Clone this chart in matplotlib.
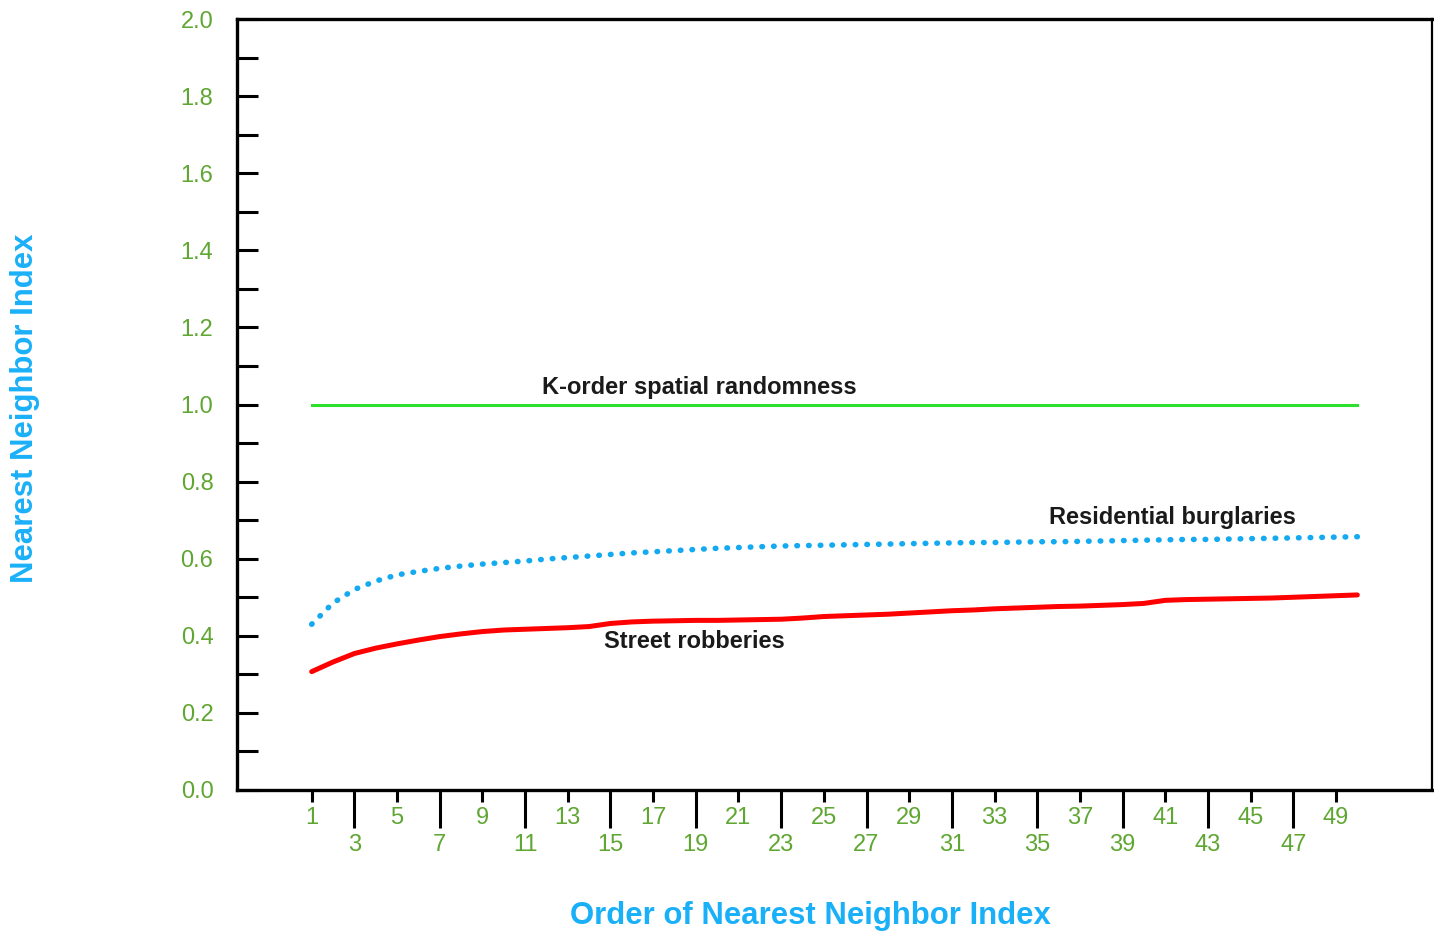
import matplotlib
matplotlib.use("Agg")
import matplotlib.pyplot as plt
import numpy as np

plt.rcParams["font.family"] = ["Liberation Sans", "DejaVu Sans"]

order = np.arange(1, 51)
burglaries = [
    0.430, 0.485, 0.520, 0.542, 0.558, 0.567, 0.575, 0.581, 0.586, 0.590,
    0.594, 0.599, 0.603, 0.607, 0.611, 0.615, 0.618, 0.621, 0.624, 0.627,
    0.629, 0.631, 0.633, 0.634, 0.635, 0.636, 0.637, 0.638, 0.639, 0.640,
    0.641, 0.642, 0.642, 0.643, 0.644, 0.644, 0.645, 0.646, 0.647, 0.648,
    0.649, 0.650, 0.650, 0.651, 0.652, 0.653, 0.654, 0.655, 0.656, 0.657,
]
robberies = [
    0.307, 0.332, 0.354, 0.368, 0.379, 0.389, 0.398, 0.405, 0.411, 0.415,
    0.417, 0.419, 0.421, 0.424, 0.432, 0.436, 0.438, 0.439, 0.440, 0.440,
    0.441, 0.442, 0.443, 0.446, 0.450, 0.452, 0.454, 0.456, 0.459, 0.462,
    0.465, 0.467, 0.470, 0.472, 0.474, 0.476, 0.477, 0.479, 0.481, 0.484,
    0.492, 0.494, 0.495, 0.496, 0.497, 0.498, 0.500, 0.502, 0.504, 0.506,
]
randomness = [1.0] * 50

tick_green = "#5fa632"
label_blue = "#1ab0f8"

fig = plt.figure(figsize=(14.34, 9.32), dpi=100)
ax = fig.add_axes([237 / 1434, 1 - 790 / 932, (1432 - 237) / 1434, (790 - 19) / 932])

ax.plot(order, randomness, color="#2ee02e", linewidth=2.2)
ax.plot(order, robberies, color="#ff0000", linewidth=3.6, solid_capstyle="round")
ax.plot(order, burglaries, color="#14aaf2", linewidth=4.0,
        dashes=(0.1, 2.0), dash_capstyle="round")

ax.text(11.77, 1.043, "K-order spatial randomness", fontsize=17, fontweight="bold",
        color="#1a1a1a", va="center", ha="left")
ax.text(35.57, 0.706, "Residential burglaries", fontsize=17, fontweight="bold",
        color="#1a1a1a", va="center", ha="left")
ax.text(14.72, 0.385, "Street robberies", fontsize=17, fontweight="bold",
        color="#1a1a1a", va="center", ha="left")

ax.set_xlim(-2.5, 53.5)
ax.set_ylim(0, 2.0)

# y axis: inward ticks every 0.1, labels every 0.2
ax.set_yticks(np.arange(0, 2.01, 0.2))
ax.set_yticklabels([f"{v:.1f}" for v in np.arange(0, 2.01, 0.2)])
ax.set_yticks(np.arange(0.1, 2.0, 0.2), minor=True)
ax.tick_params(axis="y", which="both", direction="in", length=15, width=2.2,
               pad=17, labelsize=17, labelcolor=tick_green)

# x axis: odd orders, two rows of labels
short_ticks = list(range(1, 50, 4))
long_ticks = list(range(3, 50, 4))
ax.set_xticks(long_ticks)
ax.set_xticklabels([str(v) for v in long_ticks])
ax.set_xticks(short_ticks, minor=True)
ax.tick_params(axis="x", which="major", direction="out", length=27, width=2.2,
               pad=5, labelsize=17, labelcolor=tick_green)
ax.set_xticklabels([str(v) for v in short_ticks], minor=True)
ax.tick_params(axis="x", which="minor", direction="out", length=8.5, width=2.2,
               pad=4, labelsize=17, labelcolor=tick_green)

for side in ["left", "bottom", "top"]:
    ax.spines[side].set_linewidth(2.4)
ax.spines["right"].set_linewidth(1.6)

fig.text(810 / 1434, 1 - 916 / 932, "Order of Nearest Neighbor Index", fontsize=22.4,
         fontweight="bold", color=label_blue, ha="center", va="center")
fig.text(25 / 1434, 1 - 408 / 932, "Nearest Neighbor Index", fontsize=22.4,
         fontweight="bold", color=label_blue, ha="center", va="center", rotation=90)

fig.savefig("out.png", dpi=100)
